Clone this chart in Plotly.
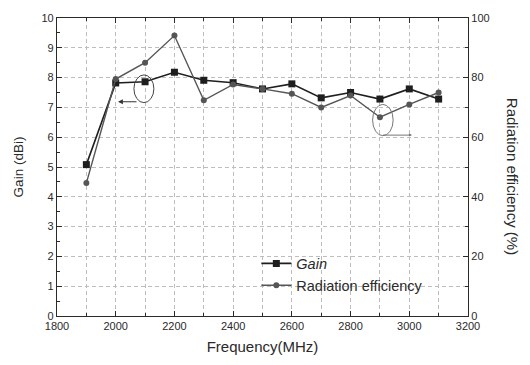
import plotly.graph_objects as go

freq = [1900, 2000, 2100, 2200, 2300, 2400, 2500, 2600, 2700, 2800, 2900, 3000, 3100]
gain = [5.08, 7.82, 7.86, 8.18, 7.91, 7.83, 7.62, 7.79, 7.32, 7.5, 7.28, 7.62, 7.28]
efficiency = [44.6, 79.5, 85.0, 94.1, 72.4, 77.7, 76.2, 74.6, 70.0, 74.0, 66.7, 71.0, 75.0]

font = "Liberation Sans, Arial, sans-serif"
ink = "#2a2a2a"
grid = "#bdbdbd"

fig = go.Figure()
fig.add_trace(go.Scatter(
    x=freq, y=gain, name="<i>Gain</i>", mode="lines+markers",
    line=dict(color="#1e1e1e", width=1.6),
    marker=dict(symbol="square", size=7, color="#1e1e1e"),
))
fig.add_trace(go.Scatter(
    x=freq, y=efficiency, name="Radiation efficiency", mode="lines+markers",
    yaxis="y2",
    line=dict(color="#555555", width=1.4),
    marker=dict(symbol="circle", size=6, color="#555555"),
))

# annotation ellipses and arrows
fig.add_shape(type="circle", xref="x", yref="y",
              x0=2062, x1=2130, y0=7.16, y1=8.09,
              line=dict(color="#444", width=1))
fig.add_annotation(x=2008, y=7.19, ax=2076, ay=7.19, xref="x", yref="y",
                   axref="x", ayref="y", showarrow=True, arrowhead=2,
                   arrowsize=0.8, arrowwidth=1.2, arrowcolor="#333", text="")
fig.add_shape(type="circle", xref="x", yref="y",
              x0=2875, x1=2945, y0=6.05, y1=7.1,
              line=dict(color="#777", width=1))
fig.add_annotation(x=3009, y=6.07, ax=2905, ay=6.07, xref="x", yref="y",
                   axref="x", ayref="y", showarrow=True, arrowhead=2,
                   arrowsize=0.6, arrowwidth=1, arrowcolor="#777", text="")

fig.add_annotation(text="Radiation efficiency (%)", textangle=90,
                   xref="paper", yref="paper", x=1.107, y=0.467,
                   xanchor="center", yanchor="middle",
                   showarrow=False, font=dict(family=font, size=15, color=ink))

fig.update_layout(
    width=530, height=365,
    margin=dict(l=57, r=62, t=15, b=47),
    paper_bgcolor="white", plot_bgcolor="white",
    font=dict(family=font, size=11, color=ink),
    showlegend=True,
    legend=dict(x=0.485, y=0.23, xanchor="left", yanchor="top",
                bgcolor="rgba(0,0,0,0)", font=dict(size=14.5, color=ink),
                itemwidth=30, tracegroupgap=0),
    xaxis=dict(
        range=[1800, 3200], dtick=200, tick0=1800,
        showgrid=True, gridcolor=grid, griddash="4px,3px", gridwidth=1,
        minor=dict(dtick=100, showgrid=True, gridcolor=grid, griddash="4px,3px",
                   ticks="inside", ticklen=3, tickcolor=ink),
        ticks="inside", ticklen=5, tickcolor=ink,
        showline=True, linecolor=ink, linewidth=1.3, mirror="ticks",
        zeroline=False,
        title=dict(text="Frequency(MHz)", font=dict(size=15), standoff=10),
    ),
    yaxis=dict(
        range=[0, 10], dtick=1,
        showgrid=True, gridcolor=grid, griddash="4px,3px", gridwidth=1,
        minor=dict(dtick=0.5, ticks="inside", ticklen=3, tickcolor=ink),
        ticks="inside", ticklen=5, tickcolor=ink,
        showline=True, linecolor=ink, linewidth=1.3, mirror=True,
        zeroline=False,
        title=dict(text="Gain (dBi)", font=dict(size=13.5), standoff=14),
    ),
    yaxis2=dict(
        range=[0, 100], dtick=20, overlaying="y", side="right",
        showgrid=False, zeroline=False,
        ticks="inside", ticklen=5, tickcolor=ink,
        minor=dict(dtick=10, ticks="inside", ticklen=3, tickcolor=ink),
        showline=True, linecolor=ink, linewidth=1.3,
    ),
)

fig.write_html("out.html")
